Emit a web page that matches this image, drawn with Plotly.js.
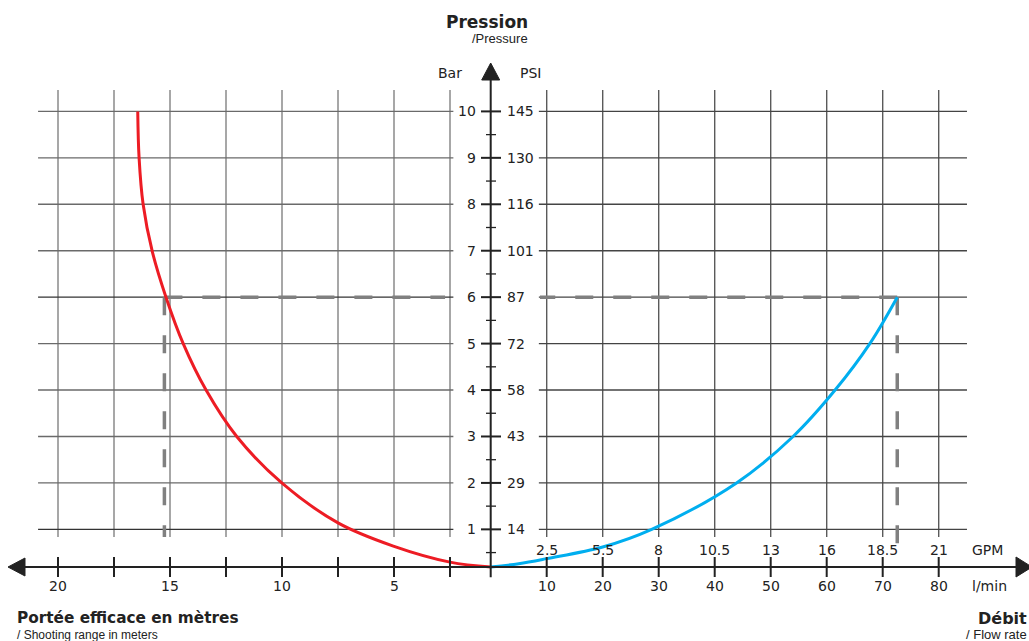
<!DOCTYPE html>
<html><head><meta charset="utf-8">
<script src="https://cdn.plot.ly/plotly-3.0.1.min.js"></script>
<style>html,body{margin:0;padding:0;background:#fff}#chart{width:1029px;height:641px}</style>
</head><body><div id="chart"></div>
<script>
// ---- Data ----
const rangeMeters = [16.44, 16.38, 16.2, 15.8, 15.18, 14.41, 13.39, 12.02, 10.01, 7.5, 5.03, 2.5, 0.68];
const rangeBar    = [10, 9, 8, 7, 6, 5, 4, 3, 2, 1.14, 0.64, 0.295, 0.19];
const flowLmin    = [0, 5, 10, 20, 28.75, 43.9, 54, 61.5, 67.7, 72.6];
const flowBar     = [0.19, 0.26, 0.37, 0.62, 1, 2, 3, 4, 5, 6];
const opPressure = 6, opRange = 15.25, opFlow = 72.6;

const meterTicks  = [2.5, 5, 7.5, 10, 12.5, 15, 17.5, 20];
const meterLabels = ['', '5', '', '10', '', '15', '', '20'];
const lminTicks   = [10, 20, 30, 40, 50, 60, 70, 80];
const gpmLabels   = ['2.5', '5.5', '8', '10.5', '13', '16', '18.5', '21'];
const barTicks    = [1, 2, 3, 4, 5, 6, 7, 8, 9, 10];
const psiLabels   = ['14', '29', '43', '58', '72', '87', '101', '116', '130', '145'];

// ---- Layout helpers (page geometry) ----
const W = 1029, H = 641;
const px = v => v / W, py = v => 1 - v / H;
const cx = 490.7;           // centre axis (pixels)
const base = 0.19;          // bar level of the horizontal axis
const gridTop = 10.46, gridBot = 0.835;
const ink = '#222';
const FONT = 'DejaVu Sans, Verdana, sans-serif';
const SMALL = 'Liberation Sans, Arial, sans-serif';

const shapes = [];
const ann = [];
// grid
meterTicks.forEach(m => shapes.push({type:'line', xref:'x2', yref:'y', x0:m, x1:m, y0:gridBot, y1:gridTop, layer:'below', line:{color:'#8a8a8a', width:1.5}}));
lminTicks.forEach(v => shapes.push({type:'line', xref:'x', yref:'y', x0:v, x1:v, y0:gridBot, y1:gridTop, layer:'below', line:{color:'#5a5a5a', width:1.4}}));
barTicks.forEach(b => {
  const c = (b === 1 || b === 6) ? '#333' : '#6a6a6a';
  shapes.push({type:'line', xref:'x2', yref:'y', x0:20.89, x1:2.35, y0:b, y1:b, layer:'below', line:{color:c, width:1.4}});
  shapes.push({type:'line', xref:'x', yref:'y', x0:8.6, x1:85.05, y0:b, y1:b, layer:'below', line:{color:'#444', width:1.4}});
});
// dashed operating point
const dash = {color:'#808080', width:3.5, dash:'18px,20px'};
shapes.push({type:'line', xref:'x2', yref:'y', x0:opRange, x1:opRange, y0:opPressure, y1:gridBot, layer:'below', line:dash});
shapes.push({type:'line', xref:'x2', yref:'y', x0:opRange, x1:2.72, y0:opPressure, y1:opPressure, layer:'below', line:dash});
shapes.push({type:'line', xref:'x', yref:'y', x0:opFlow, x1:8.8, y0:opPressure, y1:opPressure, layer:'below', line:dash});
shapes.push({type:'line', xref:'x', yref:'y', x0:opFlow, x1:opFlow, y0:opPressure, y1:0.43, layer:'below', line:dash});
// vertical (pressure) axis
shapes.push({type:'line', xref:'paper', yref:'y', x0:px(cx), x1:px(cx), y0:-0.03, y1:10.72, line:{color:ink, width:2}});
shapes.push({type:'path', xref:'paper', yref:'paper', path:`M ${px(cx)} ${py(63)} L ${px(cx-9)} ${py(80)} L ${px(cx+9)} ${py(80)} Z`, fillcolor:ink, line:{color:ink, width:1}});
barTicks.forEach(b => {
  shapes.push({type:'line', xref:'paper', yref:'y', x0:px(481), x1:px(501), y0:b, y1:b, line:{color:ink, width:2}});
  shapes.push({type:'line', xref:'paper', yref:'y', x0:px(486), x1:px(496), y0:b-0.5, y1:b-0.5, line:{color:ink, width:1.3}});
  ann.push({xref:'paper', yref:'y', x:px(478), y:b, xanchor:'right', yanchor:'middle', text:String(b), showarrow:false, font:{family:FONT, size:14, color:ink}});
  ann.push({xref:'paper', yref:'y', x:px(505), y:b, xanchor:'left', yanchor:'middle', text:psiLabels[b-1], showarrow:false, font:{family:FONT, size:14, color:ink}});
});
// horizontal axis
shapes.push({type:'line', xref:'paper', yref:'y', x0:px(20), x1:px(1018), y0:base, y1:base, line:{color:ink, width:2}});
shapes.push({type:'path', xref:'paper', yref:'paper', path:`M ${px(8)} ${py(567)} L ${px(25)} ${py(558)} L ${px(25)} ${py(576)} Z`, fillcolor:ink, line:{color:ink, width:1}});
shapes.push({type:'path', xref:'paper', yref:'paper', path:`M ${px(1032)} ${py(567)} L ${px(1016)} ${py(557)} L ${px(1016)} ${py(577)} Z`, fillcolor:ink, line:{color:ink, width:1}});
meterTicks.forEach((m, i) => {
  shapes.push({type:'line', xref:'x2', yref:'paper', x0:m, x1:m, y0:py(557), y1:py(577), line:{color:ink, width:2}});
  if (meterLabels[i]) ann.push({xref:'x2', yref:'paper', x:m, y:py(585.5), xanchor:'center', yanchor:'middle', text:meterLabels[i], showarrow:false, font:{family:FONT, size:14, color:ink}});
});
lminTicks.forEach((v, i) => {
  shapes.push({type:'line', xref:'x', yref:'paper', x0:v, x1:v, y0:py(557), y1:py(577), line:{color:ink, width:2}});
  ann.push({xref:'x', yref:'paper', x:v, y:py(585.5), xanchor:'center', yanchor:'middle', text:String(v), showarrow:false, font:{family:FONT, size:14, color:ink}});
  ann.push({xref:'x', yref:'paper', x:v, y:py(549.5), xanchor:'center', yanchor:'middle', text:gpmLabels[i], showarrow:false, font:{family:FONT, size:14, color:ink}});
});
// unit labels and titles
const t = (x, y, text, anchor, font) => ann.push({xref:'paper', yref:'paper', x:px(x), y:py(y), xanchor:anchor, yanchor:'middle', text, showarrow:false, font});
t(449.7, 72.7, 'Bar', 'center', {family:FONT, size:14, color:ink});
t(530, 72.7, 'PSI', 'center', {family:FONT, size:14, color:ink});
t(970, 550, 'GPM', 'left', {family:FONT, size:14, color:ink});
t(970, 586, 'l/min', 'left', {family:FONT, size:14, color:ink});
t(487, 22, '<b>Pression</b>', 'center', {family:FONT, size:17, color:ink});
t(530, 38, '/Pressure', 'right', {family:SMALL, size:13, color:ink});
t(15, 618, '<b>Portée efficace en mètres</b>', 'left', {family:FONT, size:15.3, color:ink});
t(15, 634.5, '/ Shooting range in meters', 'left', {family:SMALL, size:12, color:ink});
t(1029, 618, '<b>Débit</b>', 'right', {family:FONT, size:16, color:ink});
t(1029, 634.5, '/ Flow rate', 'right', {family:SMALL, size:13, color:ink});

const traces = [
  {x: rangeMeters, y: rangeBar, xaxis:'x2', yaxis:'y', type:'scatter', mode:'lines', line:{color:'#ed1c24', width:3, shape:'spline', smoothing:1}, hoverinfo:'skip', name:'Portée'},
  {x: flowLmin, y: flowBar, xaxis:'x', yaxis:'y', type:'scatter', mode:'lines', line:{color:'#00aeef', width:3, shape:'spline', smoothing:1}, hoverinfo:'skip', name:'Débit'}
];

const layout = {
  width: W, height: H, autosize: false,
  margin: {l:0, r:0, t:0, b:0, pad:0},
  paper_bgcolor: '#fff', plot_bgcolor: 'rgba(0,0,0,0)',
  showlegend: false,
  xaxis:  {domain:[cx/W, 1], range:[0, (W - cx)/5.6], visible:false, fixedrange:true},
  xaxis2: {domain:[0, cx/W], range:[15 + 170/22.4, 15 - (cx-170)/22.4], visible:false, fixedrange:true, anchor:'y'},
  yaxis:  {domain:[0, 1], range:[(575.8 - H)/46.44, 575.8/46.44], visible:false, fixedrange:true},
  shapes, annotations: ann
};
Plotly.newPlot('chart', traces, layout, {displayModeBar:false, staticPlot:true});
</script></body></html>
